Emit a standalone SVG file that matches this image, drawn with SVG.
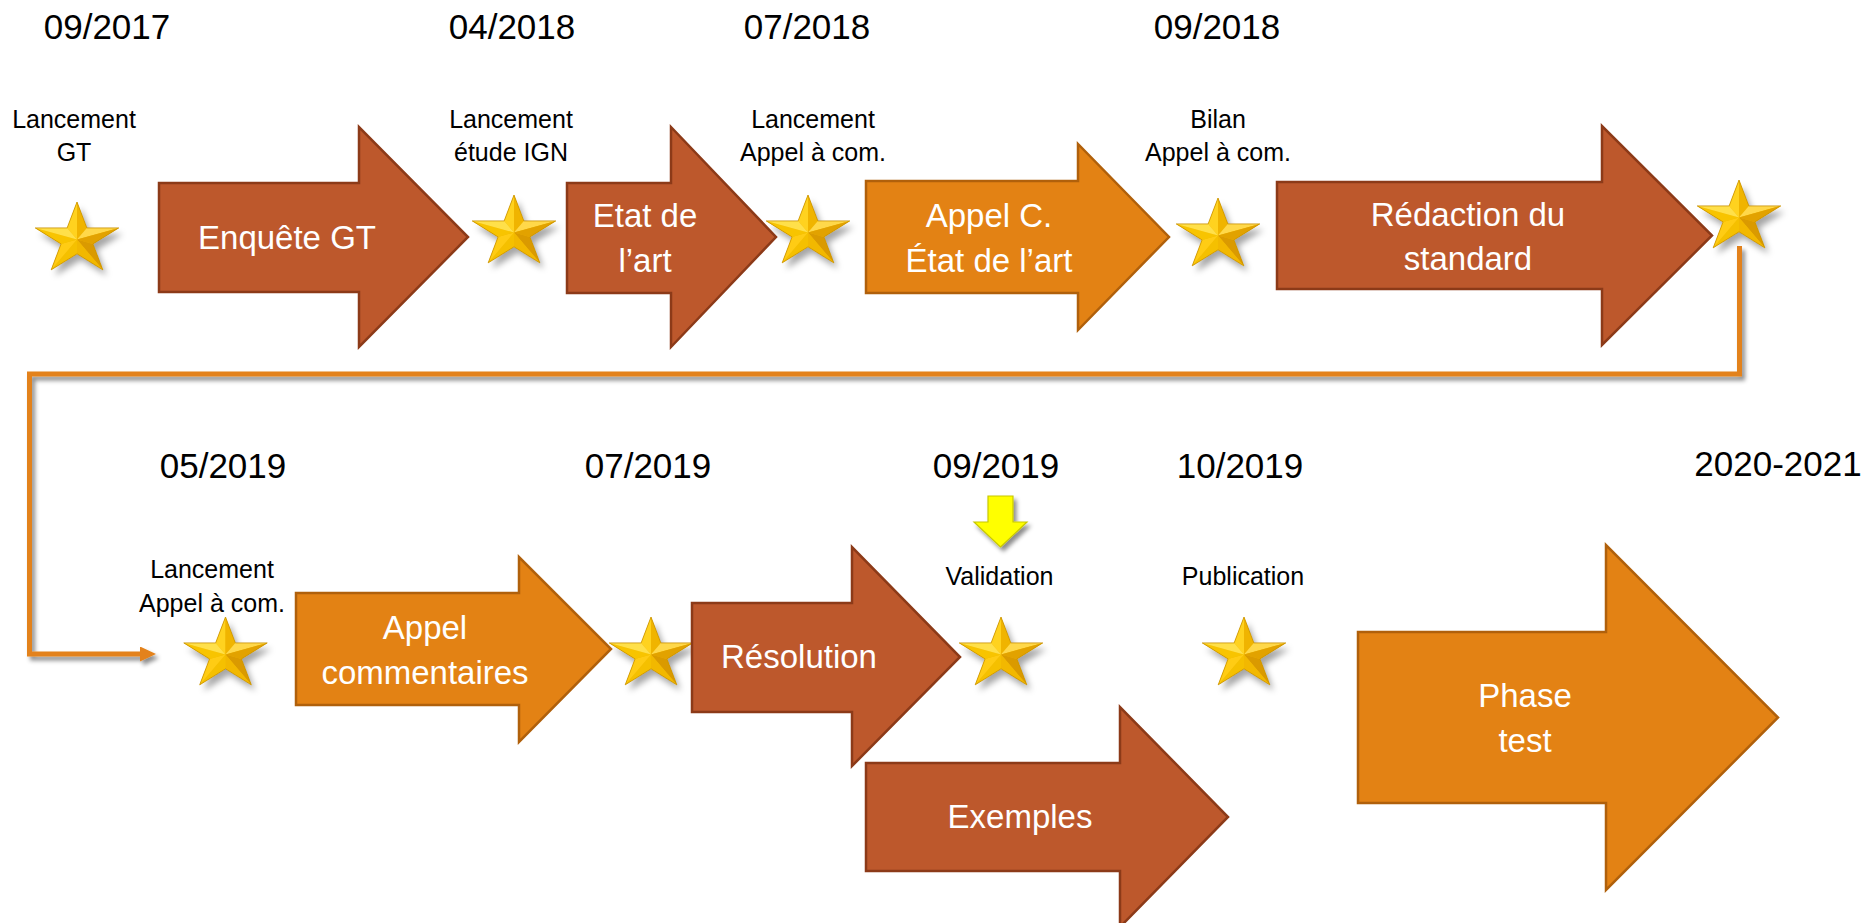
<svg xmlns="http://www.w3.org/2000/svg" xmlns:xlink="http://www.w3.org/1999/xlink" width="1864" height="923" viewBox="0 0 1864 923">
<style>
  text { font-family: "Liberation Sans", Arial, sans-serif; }
  .date { font-size: 35px; fill: #000; text-anchor: middle; }
  .lbl { font-size: 25px; fill: #000; text-anchor: middle; }
  .atxt { font-size: 33px; fill: #fff; text-anchor: middle; }
  .brown { fill: #BD582C; stroke: #8C3A18; stroke-width: 2.5; stroke-linejoin: miter; }
  .orange { fill: #E38214; stroke: #B0600B; stroke-width: 2.5; stroke-linejoin: miter; }
  .conn { fill: none; stroke: #E3821A; stroke-width: 5; stroke-linejoin: miter; }
</style>
<defs>
  <filter id="shadow" x="-30%" y="-30%" width="170%" height="170%">
    <feDropShadow dx="3" dy="4" stdDeviation="2" flood-color="#000" flood-opacity="0.45"/>
  </filter>
  <filter id="starShadow" x="-40%" y="-40%" width="190%" height="190%">
    <feDropShadow dx="4" dy="6" stdDeviation="3" flood-color="#000" flood-opacity="0.35"/>
  </filter>
  <marker id="head" viewBox="0 0 16 15" refX="2" refY="7.5" markerWidth="16" markerHeight="15" markerUnits="userSpaceOnUse" orient="auto">
    <path d="M0,0 L16,7.5 L0,15 Z" fill="#E3821A"/>
  </marker>
  <g id="star">
    <g filter="url(#starShadow)">
      <polygon points="0,-37.5 9.85,-11.59 41.72,-11.59 15.95,4.43 25.79,30.34 0,14.33 -25.79,30.34 -15.95,4.43 -41.72,-11.59 -9.85,-11.59" fill="#F2B800"/>
    </g>
    <polygon points="0,0 -9.85,-11.59 0,-37.5" fill="#FFD21F"/>
    <polygon points="0,0 0,-37.5 9.85,-11.59" fill="#F0B400"/>
    <polygon points="0,0 9.85,-11.59 41.72,-11.59" fill="#FFD84A"/>
    <polygon points="0,0 41.72,-11.59 15.95,4.43" fill="#E2A200"/>
    <polygon points="0,0 15.95,4.43 25.79,30.34" fill="#DA9A00"/>
    <polygon points="0,0 25.79,30.34 0,14.33" fill="#F2B800"/>
    <polygon points="0,0 0,14.33 -25.79,30.34" fill="#F5C000"/>
    <polygon points="0,0 -25.79,30.34 -15.95,4.43" fill="#FFCC14"/>
    <polygon points="0,0 -15.95,4.43 -41.72,-11.59" fill="#F8C400"/>
    <polygon points="0,0 -41.72,-11.59 -9.85,-11.59" fill="#FFE04A"/>
    <polygon points="0,-37.5 9.85,-11.59 41.72,-11.59 15.95,4.43 25.79,30.34 0,14.33 -25.79,30.34 -15.95,4.43 -41.72,-11.59 -9.85,-11.59" fill="none" stroke="#C99200" stroke-width="0.8"/>
  </g>
</defs>
<rect width="1864" height="923" fill="#fff"/>

<g id="connectors">
  <path class="conn" filter="url(#shadow)" d="M1739.5,246 V374 H29.5 V654 H142" marker-end="url(#head)"/>
</g>

<!-- dates -->
<g id="dates">
  <text class="date" x="107" y="39">09/2017</text>
  <text class="date" x="512" y="39">04/2018</text>
  <text class="date" x="807" y="39">07/2018</text>
  <text class="date" x="1217" y="39">09/2018</text>
  <text class="date" x="223" y="478">05/2019</text>
  <text class="date" x="648" y="478">07/2019</text>
  <text class="date" x="996" y="478">09/2019</text>
  <text class="date" x="1240" y="478">10/2019</text>
  <text class="date" x="1778" y="476">2020-2021</text>
</g>

<!-- milestones -->
<g id="m1"><use xlink:href="#star" transform="translate(77,239.5)"/>
  <text class="lbl" x="74" y="128">Lancement</text><text class="lbl" x="74" y="161">GT</text></g>
<g id="m2"><use xlink:href="#star" transform="translate(514,232.5)"/>
  <text class="lbl" x="511" y="128">Lancement</text><text class="lbl" x="511" y="161">étude IGN</text></g>
<g id="m3"><use xlink:href="#star" transform="translate(808,232.5)"/>
  <text class="lbl" x="813" y="128">Lancement</text><text class="lbl" x="813" y="161">Appel à com.</text></g>
<g id="m4"><use xlink:href="#star" transform="translate(1218,235.5)"/>
  <text class="lbl" x="1218" y="128">Bilan</text><text class="lbl" x="1218" y="161">Appel à com.</text></g>
<g id="m5"><use xlink:href="#star" transform="translate(1739,217.5)"/></g>
<g id="m6"><use xlink:href="#star" transform="translate(225.5,654.5)"/>
  <text class="lbl" x="212" y="578">Lancement</text><text class="lbl" x="212" y="612">Appel à com.</text></g>
<g id="m7"><use xlink:href="#star" transform="translate(651,654.5)"/></g>
<g id="m8"><use xlink:href="#star" transform="translate(1001,654.5)"/>
  <text class="lbl" x="999.5" y="585">Validation</text>
  <polygon filter="url(#shadow)" points="988,496 1013,496 1013,522 1027,522 1000.5,547 974,522 988,522" fill="#FFFF00" stroke="#C8C800" stroke-width="1.2"/></g>
<g id="m9"><use xlink:href="#star" transform="translate(1244,654.5)"/>
  <text class="lbl" x="1243" y="585">Publication</text></g>

<!-- phase arrows -->
<g id="enquete">
  <polygon class="brown" points="159,183 359,183 359,127 468,237 359,347 359,292 159,292"/>
  <text class="atxt" x="287" y="249">Enquête GT</text>
</g>
<g id="etat">
  <polygon class="brown" points="567,183 671,183 671,127 776,237 671,347 671,293 567,293"/>
  <text class="atxt" x="645" y="227">Etat de</text><text class="atxt" x="645" y="272">l’art</text>
</g>
<g id="appelc">
  <polygon class="orange" points="866,181 1078,181 1078,144 1169,237 1078,330 1078,293 866,293"/>
  <text class="atxt" x="989" y="227">Appel C.</text><text class="atxt" x="989" y="272">État de l’art</text>
</g>
<g id="redaction">
  <polygon class="brown" points="1277,182 1602,182 1602,126 1712,235.5 1602,345 1602,289 1277,289"/>
  <text class="atxt" x="1468" y="226">Rédaction du</text><text class="atxt" x="1468" y="270">standard</text>
</g>
<g id="appelcomm">
  <polygon class="orange" points="296,593 519,593 519,557 611,649 519,742 519,705 296,705"/>
  <text class="atxt" x="425" y="639">Appel</text><text class="atxt" x="425" y="684">commentaires</text>
</g>
<g id="resolution">
  <polygon class="brown" points="692,603 852,603 852,547 960,657 852,766 852,712 692,712"/>
  <text class="atxt" x="799" y="668">Résolution</text>
</g>
<g id="exemples">
  <polygon class="brown" points="866,763 1120,763 1120,707 1228,817 1120,927 1120,871 866,871"/>
  <text class="atxt" x="1020" y="828">Exemples</text>
</g>
<g id="phasetest">
  <polygon class="orange" points="1358,632 1606,632 1606,545 1778,717.5 1606,890 1606,803 1358,803"/>
  <text class="atxt" x="1525" y="707">Phase</text><text class="atxt" x="1525" y="752">test</text>
</g>
</svg>
